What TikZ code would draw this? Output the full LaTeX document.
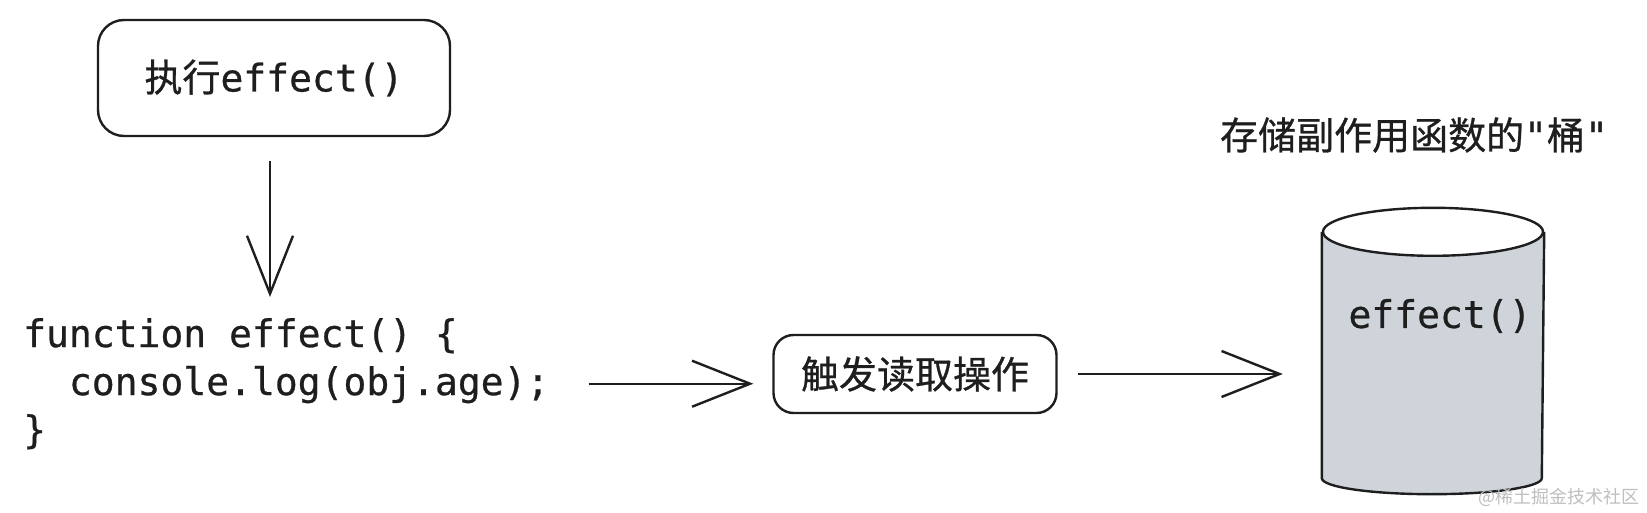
\documentclass[tikz,border=0pt]{standalone}
\usepackage{fontspec}
\setmainfont{Noto Sans CJK SC}[FakeBold=0.7]
\newfontfamily\codefont{DejaVu Sans Mono}[FakeBold=0.7]
\newfontfamily\markfont{Noto Sans CJK SC}
\usetikzlibrary{arrows.meta,positioning}
\definecolor{ink}{HTML}{1E1E1E}
\definecolor{bucketgray}{HTML}{CED4DA}

\begin{document}
\begin{tikzpicture}[x=1pt, y=-1pt, line width=2.4pt, ink,
txt/.style={text=ink,inner sep=0pt,font=\fontsize{38}{48}\selectfont},
codetxt/.style={txt,font=\codefont\fontsize{38}{48}\selectfont},
box/.style={rectangle,draw=ink,rounded corners=26pt,inner sep=0pt},
flow/.style={draw=ink,-{Straight Barb[length=58pt,width=46pt,line width=2.4pt]}},
]
\fill[white] (0,0) rectangle (1647,513);
\useasboundingbox (0,0) rectangle (1647,513);

%% left column
\node[box, txt, minimum width=352pt, minimum height=116pt] (exec) at (274,78) {执行{\codefont effect()}};
\node[codetxt, align=left, anchor=north west] (code) at (22,317)
  {function effect() \{\\ \phantom{xx}console.log(obj.age);\\ \}};

%% middle
\node[box, txt, rounded corners=20pt, minimum width=283pt, minimum height=78pt] (trigger) at (915,374) {触发读取操作};

%% the bucket
\node[minimum width=220pt, minimum height=244pt, inner sep=0pt] (bucket) at (1433,355) {};
\fill[bucketgray] (bucket.north west) -- (bucket.south west)
  arc[start angle=180, end angle=0, x radius=110, y radius=16] -- (bucket.north east) -- cycle;
\draw (bucket.north west) -- (bucket.south west)
  arc[start angle=180, end angle=0, x radius=110, y radius=16] -- (bucket.north east);
\draw[fill=white] (bucket.north) ellipse[x radius=110, y radius=24];
\node[codetxt] (bucketitem) at (1440,316) {effect()};
\node[txt] (bucketname) at (1414,135) {存储副作用函数的{\codefont"}桶{\codefont"}};

\node[txt, text=gray!50, font=\markfont\fontsize{18}{22}\selectfont, anchor=east] (mark) at (1641,497) {@稀土掘金技术社区};

%% arrows
\draw[flow, shorten <=24pt] (exec.south -| 270,0) -- (270,297);
\draw[flow, shorten <=38pt, shorten >=19pt] (code.east) -- (code.east -| trigger.west);
\draw[flow, shorten <=20pt, shorten >=39pt] (trigger.east) -- (trigger.east -| bucket.west);
\end{tikzpicture}
\end{document}
